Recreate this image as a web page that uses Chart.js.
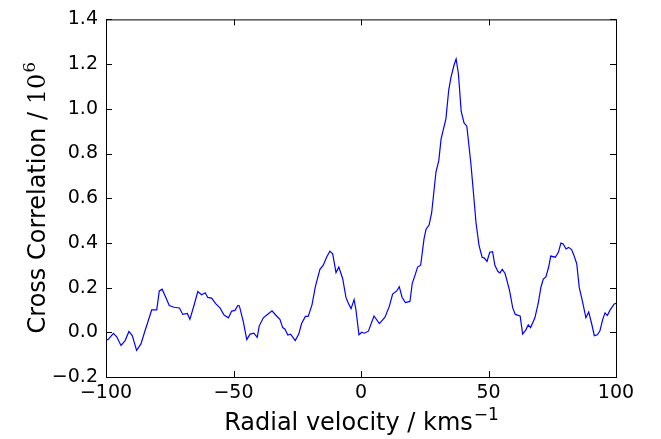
<!DOCTYPE html>
<html>
<head>
<meta charset="utf-8">
<script src="https://cdn.jsdelivr.net/npm/chart.js@4"></script>
<style>
  html, body { margin: 0; padding: 0; background: #fff; }
  #wrap { width: 661px; height: 439px; }
</style>
</head>
<body>
<div id="wrap"><canvas id="myChart" width="661" height="439"></canvas></div>
<script>
const velocity = [-100, -99.2, -97.1, -95.8, -94.1, -92.5, -91, -89.7, -88, -86.3, -84.7, -83.4, -82.1, -80.1,
  -79.1, -78, -76.7, -75.2, -73.3, -71.2, -69.9, -68.1, -67.1, -65.5, -64, -62.5, -61.1, -60.1, -58.6, -56.9,
  -55.3, -53.7, -52, -50.7, -49.4, -48.3, -47.7, -46.2, -44.8, -43.5, -42, -40.7, -39.9, -38.3, -36.7, -34.9,
  -33.1, -31.8, -30.7, -29.8, -28.7, -27.6, -25.8, -24.4, -23.3, -21.8, -20.7, -19.2, -17.9, -16.1, -14.8,
  -13.5, -12.2, -11.1, -9.8, -8.7, -7.2, -5.9, -5, -3.9, -2.7, -2, -0.8, 0.3, 1.3, 2.9, 5.1, 7.2, 9.4, 11.1,
  12.4, 14, 15, 16.1, 17.4, 19.2, 20.1, 21.2, 22.2, 23.4, 24.7, 25.5, 26.7, 27.7, 29.4, 30.5, 31.4, 32.3, 33.3,
  34.4, 35.3, 36.5, 37.3, 38.2, 39.3, 40.4, 41.5, 43.1, 44, 45.1, 46.3, 47.5, 48.4, 49.4, 50.5, 51.6, 52.5,
  53.7, 54.5, 55.4, 56.5, 58.2, 59.5, 60.5, 62.4, 63.4, 64.6, 65.6, 66.5, 68.2, 69.5, 70.6, 71.5, 72.5, 73.6,
  74.4, 76.2, 77.4, 78.4, 79.3, 80.4, 81.4, 82.6, 83.5, 84.6, 85.6, 86.7, 88.2, 89.3, 90.5, 91.5, 92.7, 93.7,
  94.8, 95.7, 96.6, 97.6, 99.3, 100]
const correlation = [-0.033, -0.033, -0.005, -0.02, -0.059, -0.037, 0.004, -0.015, -0.081, -0.052, 0.007, 0.053,
  0.10, 0.10, 0.185, 0.193, 0.16, 0.12, 0.112, 0.109, 0.08, 0.084, 0.058, 0.12, 0.182, 0.168, 0.177, 0.156,
  0.153, 0.127, 0.109, 0.077, 0.065, 0.095, 0.098, 0.12, 0.118, 0.05, -0.033, -0.008, -0.004, -0.023, 0.029,
  0.065, 0.08, 0.096, 0.073, 0.058, 0.021, 0.014, -0.012, -0.008, -0.037, -0.008, 0.039, 0.071, 0.071, 0.124,
  0.204, 0.282, 0.30, 0.336, 0.363, 0.351, 0.267, 0.292, 0.241, 0.156, 0.131, 0.106, 0.146, 0.102, -0.011, 0,
  -0.004, 0.005, 0.073, 0.039, 0.068, 0.116, 0.171, 0.185, 0.204, 0.157, 0.133, 0.138, 0.219, 0.256, 0.292,
  0.30, 0.417, 0.461, 0.48, 0.534, 0.717, 0.768, 0.864, 0.908, 0.955, 1.084, 1.142, 1.196, 1.223, 1.157,
  0.988, 0.937, 0.922, 0.754, 0.637, 0.49, 0.388, 0.336, 0.332, 0.317, 0.358, 0.361, 0.30, 0.272, 0.266,
  0.282, 0.263, 0.19, 0.109, 0.08, 0.073, -0.008, 0.01, 0.033, 0.021, 0.065, 0.131, 0.204, 0.238, 0.248,
  0.292, 0.341, 0.336, 0.358, 0.399, 0.395, 0.373, 0.38, 0.37, 0.344, 0.307, 0.20, 0.146, 0.065, 0.091,
  0.036, -0.015, -0.011, 0.007, 0.058, 0.087, 0.075, 0.098, 0.127, 0.13]
const xTicks = [-100, -50, 0, 50, 100]
const yTicks = [-0.2, 0, 0.2, 0.4, 0.6, 0.8, 1.0, 1.2, 1.4]

const minus = s => String(s).replace('-', '\u2212')

// matplotlib-ish frame, inward ticks on all four sides, titles with superscripts
const framePlugin = {
  id: 'frame',
  afterDraw(chart) {
    const ctx = chart.ctx
    const a = chart.chartArea
    const xs = chart.scales.x, ys = chart.scales.y
    ctx.save()
    ctx.strokeStyle = '#000'
    ctx.lineWidth = 1
    ctx.strokeRect(a.left + 0.5, a.top + 0.5, a.right - a.left, a.bottom - a.top)
    ctx.beginPath()
    xTicks.forEach(v => {
      const px = Math.round(xs.getPixelForValue(v)) + 0.5
      ctx.moveTo(px, a.bottom); ctx.lineTo(px, a.bottom - 6)
      ctx.moveTo(px, a.top); ctx.lineTo(px, a.top + 6)
    })
    yTicks.forEach(v => {
      const py = Math.round(ys.getPixelForValue(v)) + 0.5
      ctx.moveTo(a.left, py); ctx.lineTo(a.left + 6, py)
      ctx.moveTo(a.right, py); ctx.lineTo(a.right - 6, py)
    })
    ctx.stroke()

    ctx.fillStyle = '#000'
    ctx.textBaseline = 'alphabetic'
    // x title
    const xt = 'Radial velocity / kms'
    ctx.font = '24px "DejaVu Sans"'
    const w1 = ctx.measureText(xt).width
    ctx.font = '17px "DejaVu Sans"'
    const w2 = ctx.measureText('\u22121').width
    let x0 = (a.left + a.right) / 2 - (w1 + w2) / 2
    ctx.font = '24px "DejaVu Sans"'
    ctx.textAlign = 'left'
    ctx.fillText(xt, x0, 430)
    ctx.font = '17px "DejaVu Sans"'
    ctx.fillText('\u22121', x0 + w1 + 1, 420)

    // y title, rotated
    ctx.translate(45, (a.top + a.bottom) / 2)
    ctx.rotate(-Math.PI / 2)
    const yt = 'Cross Correlation / '
    ctx.font = '24px "DejaVu Sans"'
    const v1 = ctx.measureText(yt).width
    ctx.font = '24px "DejaVu Serif"'
    const v2 = ctx.measureText('10').width
    ctx.font = '17px "DejaVu Serif"'
    const v3 = ctx.measureText('6').width
    let y0 = -(v1 + v2 + v3) / 2
    ctx.font = '24px "DejaVu Sans"'
    ctx.fillText(yt, y0, 0)
    ctx.font = '24px "DejaVu Serif"'
    ctx.fillText('10', y0 + v1, 0)
    ctx.font = '17px "DejaVu Serif"'
    ctx.fillText('6', y0 + v1 + v2 + 1, -10)
    ctx.restore()
  }
}

const chartRef = document.getElementById('myChart').getContext('2d')
new Chart(chartRef, {
  type: 'line',
  data: {
    datasets: [{
      data: velocity.map((v, i) => ({ x: v, y: correlation[i] })),
      borderColor: '#0000ff',
      borderWidth: 1.2,
      pointRadius: 0,
      fill: false,
      tension: 0
    }]
  },
  options: {
    responsive: false,
    animation: false,
    layout: { padding: { left: 0, top: 13, right: 45, bottom: 0 } },
    plugins: { legend: { display: false }, tooltip: { enabled: false } },
    scales: {
      x: {
        type: 'linear', min: -100, max: 100,
        afterBuildTicks: s => { s.ticks = xTicks.map(v => ({ value: v })) },
        afterFit: s => { s.height = 62 },
        grid: { display: false, drawTicks: false },
        border: { display: false },
        ticks: { color: '#000', padding: 5, maxRotation: 0, font: { family: 'DejaVu Sans', size: 19 },
                 callback: v => minus(v) }
      },
      y: {
        min: -0.2, max: 1.4,
        afterBuildTicks: s => { s.ticks = yTicks.map(v => ({ value: v })) },
        afterFit: s => { s.width = 106 },
        grid: { display: false, drawTicks: false },
        border: { display: false },
        ticks: { color: '#000', padding: 8, font: { family: 'DejaVu Sans', size: 19 },
                 callback: v => minus(v.toFixed(1)) }
      }
    }
  },
  plugins: [framePlugin]
})
</script>
</body>
</html>
